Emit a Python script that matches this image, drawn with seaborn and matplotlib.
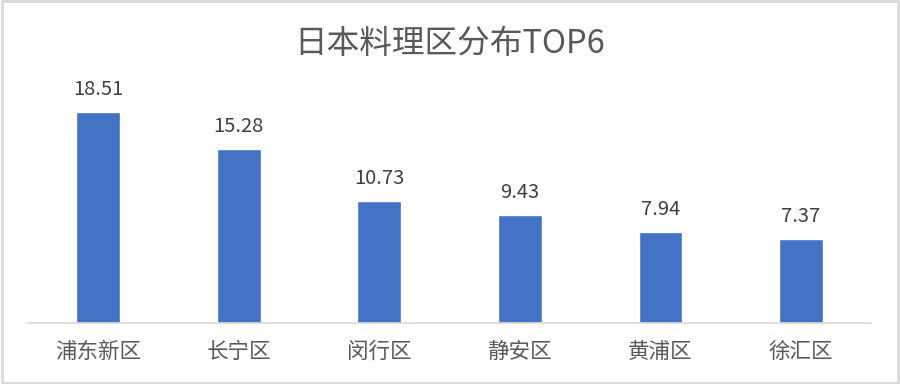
import matplotlib
matplotlib.use("Agg")
import matplotlib.pyplot as plt
import seaborn as sns
import pandas as pd
from matplotlib.patches import Rectangle

districts = ["浦东新区", "长宁区", "闵行区", "静安区", "黄浦区", "徐汇区"]
values = [18.51, 15.28, 10.73, 9.43, 7.94, 7.37]
title = "日本料理区分布TOP6"

sns.set_theme(style="white")
plt.rcParams['font.family'] = ['Noto Sans CJK SC', 'DejaVu Sans']

df = pd.DataFrame({"district": districts, "value": values})

fig = plt.figure(figsize=(9, 3.84), dpi=100)
ax = fig.add_axes([0.031, 0.159, 0.937, 0.594])
sns.barplot(data=df, x="district", y="value", color="#4472C4", width=0.31,
            saturation=1, ax=ax)
ax.set_ylim(0, 20)
ax.set_xlim(-0.5, len(districts) - 0.5)
for i, v in enumerate(values):
    ax.text(i, v + 1.05, f"{v:.2f}", ha="center", va="bottom", fontsize=14.5,
            color="#404040")
ax.set_xlabel("")
ax.set_ylabel("")
ax.set_yticks([])
ax.tick_params(axis="x", length=0, labelsize=15.5, labelcolor="#595959", pad=13)
for s in ["top", "right", "left"]:
    ax.spines[s].set_visible(False)
ax.spines["bottom"].set_color("#D9D9D9")
ax.spines["bottom"].set_linewidth(1.2)

fig.text(0.5, 0.885, title, ha="center", va="center", fontsize=23.5,
         color="#595959")
fig.patches.append(Rectangle((0.002, 0.003), 0.996, 0.994, transform=fig.transFigure,
                             fill=False, edgecolor="#D9D9D9", linewidth=2))
fig.savefig("out.png", dpi=100, facecolor="white")
